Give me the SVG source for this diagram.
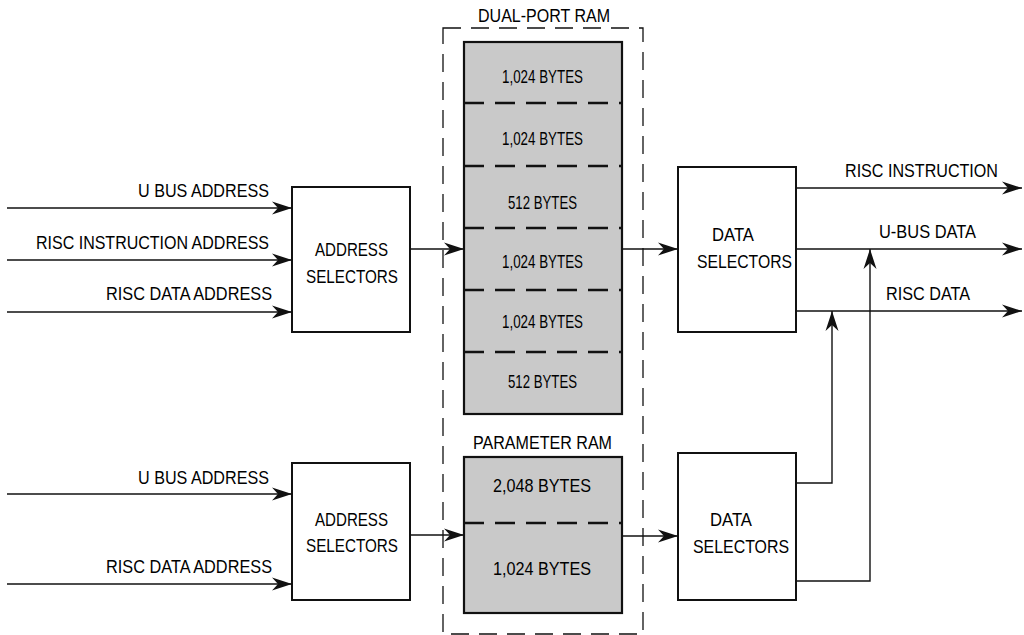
<svg xmlns="http://www.w3.org/2000/svg" width="1024" height="635" viewBox="0 0 1024 635">
<style>
text{font-family:"Liberation Sans",Arial,sans-serif;font-size:19px;fill:#000}
.box{fill:#fff;stroke:#111;stroke-width:2}
.ram{fill:#c9c9c9;stroke:#111;stroke-width:2.2}
.div{stroke:#111;stroke-width:2.4;stroke-dasharray:20 11;fill:none}
.outer{fill:none;stroke:#111;stroke-width:1.3;stroke-dasharray:18 10}
.wire{fill:none;stroke:#111;stroke-width:1.4}
.arr{marker-end:url(#ah)}
</style>
<defs>
<marker id="ah" viewBox="-20 -7 21 14" markerWidth="21" markerHeight="14" refX="0" refY="0" orient="auto" markerUnits="userSpaceOnUse">
<path d="M0,0 L-20,-6.5 L-14,0 L-20,6.5 Z" fill="#111"/>
</marker>
</defs>

<g id="dualport-group">
<rect class="outer" x="443" y="28" width="200" height="606"/>
<text x="478" y="22" textLength="132" lengthAdjust="spacingAndGlyphs">DUAL-PORT RAM</text>
</g>

<g id="dualport-ram">
<rect class="ram" x="464" y="42" width="158" height="372"/>
<line class="div" x1="464" y1="103" x2="622" y2="103"/>
<line class="div" x1="464" y1="166" x2="622" y2="166"/>
<line class="div" x1="464" y1="228" x2="622" y2="228"/>
<line class="div" x1="464" y1="290" x2="622" y2="290"/>
<line class="div" x1="464" y1="352" x2="622" y2="352"/>
<text x="502" y="83" textLength="81" lengthAdjust="spacingAndGlyphs">1,024 BYTES</text>
<text x="502" y="145" textLength="81" lengthAdjust="spacingAndGlyphs">1,024 BYTES</text>
<text x="508" y="209" textLength="69" lengthAdjust="spacingAndGlyphs">512 BYTES</text>
<text x="502" y="268" textLength="81" lengthAdjust="spacingAndGlyphs">1,024 BYTES</text>
<text x="502" y="328" textLength="81" lengthAdjust="spacingAndGlyphs">1,024 BYTES</text>
<text x="508" y="388" textLength="69" lengthAdjust="spacingAndGlyphs">512 BYTES</text>
</g>

<g id="parameter-ram">
<text x="473" y="449" textLength="139" lengthAdjust="spacingAndGlyphs">PARAMETER RAM</text>
<rect class="ram" x="464" y="457" width="158" height="156"/>
<line class="div" x1="464" y1="523" x2="622" y2="523"/>
<text x="493" y="492" textLength="98" lengthAdjust="spacingAndGlyphs">2,048 BYTES</text>
<text x="493" y="575" textLength="98" lengthAdjust="spacingAndGlyphs">1,024 BYTES</text>
</g>

<g id="addr-sel-top">
<rect class="box" x="292" y="187" width="118" height="145"/>
<text x="315" y="256" textLength="73" lengthAdjust="spacingAndGlyphs">ADDRESS</text>
<text x="306" y="283" textLength="92" lengthAdjust="spacingAndGlyphs">SELECTORS</text>
</g>

<g id="addr-sel-bottom">
<rect class="box" x="292" y="463" width="118" height="137"/>
<text x="315" y="526" textLength="73" lengthAdjust="spacingAndGlyphs">ADDRESS</text>
<text x="306" y="552" textLength="92" lengthAdjust="spacingAndGlyphs">SELECTORS</text>
</g>

<g id="data-sel-top">
<rect class="box" x="678" y="167" width="118" height="165"/>
<text x="712" y="241" textLength="42" lengthAdjust="spacingAndGlyphs">DATA</text>
<text x="697" y="268" textLength="95" lengthAdjust="spacingAndGlyphs">SELECTORS</text>
</g>

<g id="data-sel-bottom">
<rect class="box" x="678" y="453" width="118" height="147"/>
<text x="710" y="526" textLength="42" lengthAdjust="spacingAndGlyphs">DATA</text>
<text x="693" y="553" textLength="96" lengthAdjust="spacingAndGlyphs">SELECTORS</text>
</g>

<g id="labels">
<text x="138" y="197" textLength="131" lengthAdjust="spacingAndGlyphs">U BUS ADDRESS</text>
<text x="36" y="249" textLength="233" lengthAdjust="spacingAndGlyphs">RISC INSTRUCTION ADDRESS</text>
<text x="106" y="300" textLength="166" lengthAdjust="spacingAndGlyphs">RISC DATA ADDRESS</text>
<text x="138" y="484" textLength="131" lengthAdjust="spacingAndGlyphs">U BUS ADDRESS</text>
<text x="106" y="573" textLength="166" lengthAdjust="spacingAndGlyphs">RISC DATA ADDRESS</text>
<text x="845" y="177" textLength="153" lengthAdjust="spacingAndGlyphs">RISC INSTRUCTION</text>
<text x="879" y="238" textLength="97" lengthAdjust="spacingAndGlyphs">U-BUS DATA</text>
<text x="886" y="300" textLength="84" lengthAdjust="spacingAndGlyphs">RISC DATA</text>
</g>

<g id="connectors">
<line class="wire arr" x1="7" y1="208" x2="292" y2="208"/>
<line class="wire arr" x1="7" y1="260" x2="292" y2="260"/>
<line class="wire arr" x1="7" y1="312" x2="292" y2="312"/>
<line class="wire arr" x1="7" y1="494" x2="292" y2="494"/>
<line class="wire arr" x1="7" y1="584" x2="292" y2="584"/>
<line class="wire arr" x1="410" y1="249" x2="464" y2="249"/>
<line class="wire arr" x1="410" y1="535" x2="464" y2="535"/>
<line class="wire arr" x1="622" y1="249" x2="678" y2="249"/>
<line class="wire arr" x1="622" y1="536" x2="678" y2="536"/>
<line class="wire arr" x1="796" y1="188" x2="1022" y2="188"/>
<line class="wire arr" x1="796" y1="249" x2="1022" y2="249"/>
<line class="wire arr" x1="796" y1="311" x2="1022" y2="311"/>
<polyline class="wire arr" points="796,483 832,483 832,311"/>
<polyline class="wire arr" points="796,581 870,581 870,249"/>
</g>
</svg>
